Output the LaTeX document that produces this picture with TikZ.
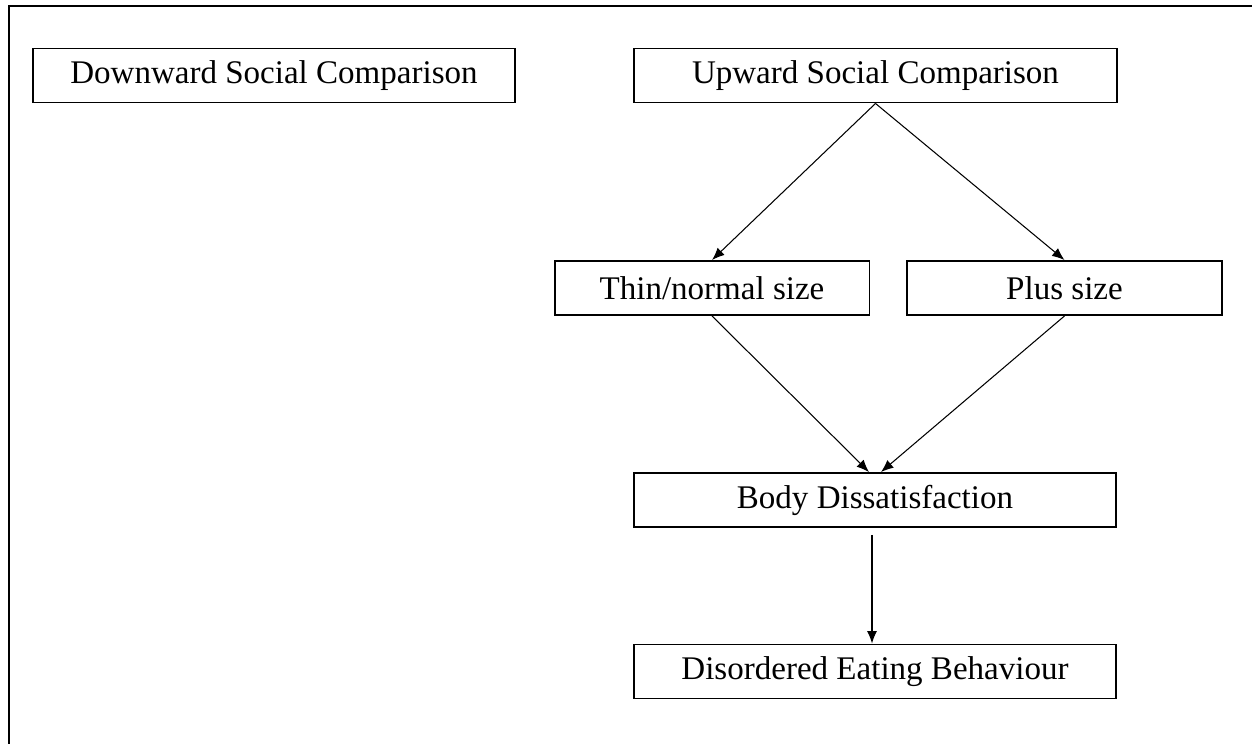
\documentclass[tikz,border=0pt]{standalone}
\usepackage{fontspec}
\setmainfont{Liberation Serif}
\usetikzlibrary{arrows.meta}
\begin{document}
\begin{tikzpicture}[x=0.02cm,y=-0.02cm,
    box/.style={draw, line width=1.1pt, minimum height=1.08cm, inner sep=0pt,
      font=\fontsize{18.8}{22}\selectfont},
    widebox/.style={box, minimum width=9.66cm},
    smallbox/.style={box, minimum width=6.30cm},
    link/.style={-{Latex[length=2.5mm,width=2mm]}, line width=0.6pt}]
    \useasboundingbox (0,0) rectangle (1252,744);
    % Frame (left and top edges only)
    \draw[line width=1.6pt] (9,744) -- (9,6) -- (1252,6);
    % Top row
    \node[widebox] (down) at (274,75.5) {Downward Social Comparison};
    \node[widebox] (up) at (875.5,75.5) {Upward Social Comparison};
    % Middle row
    \node[smallbox] (thin) at (712,288) {Thin/normal size};
    \node[smallbox] (plus) at (1064.5,288) {Plus size};
    % Lower boxes
    \node[widebox] (body) at (875,500) {Body Dissatisfaction};
    \node[widebox] (eat) at (875,671.5) {Disordered Eating Behaviour};
    % Arrows
    \draw[link] (up.south) -- (thin.north);
    \draw[link] (up.south) -- (plus.north);
    \draw[link] (thin.south) -- ([xshift=-0.12cm]body.north);
    \draw[link] (plus.south) -- ([xshift=0.12cm]body.north);
    \draw[link] ([xshift=-0.06cm,yshift=-0.14cm]body.south) -- ([xshift=-0.06cm]eat.north);
\end{tikzpicture}
\end{document}
